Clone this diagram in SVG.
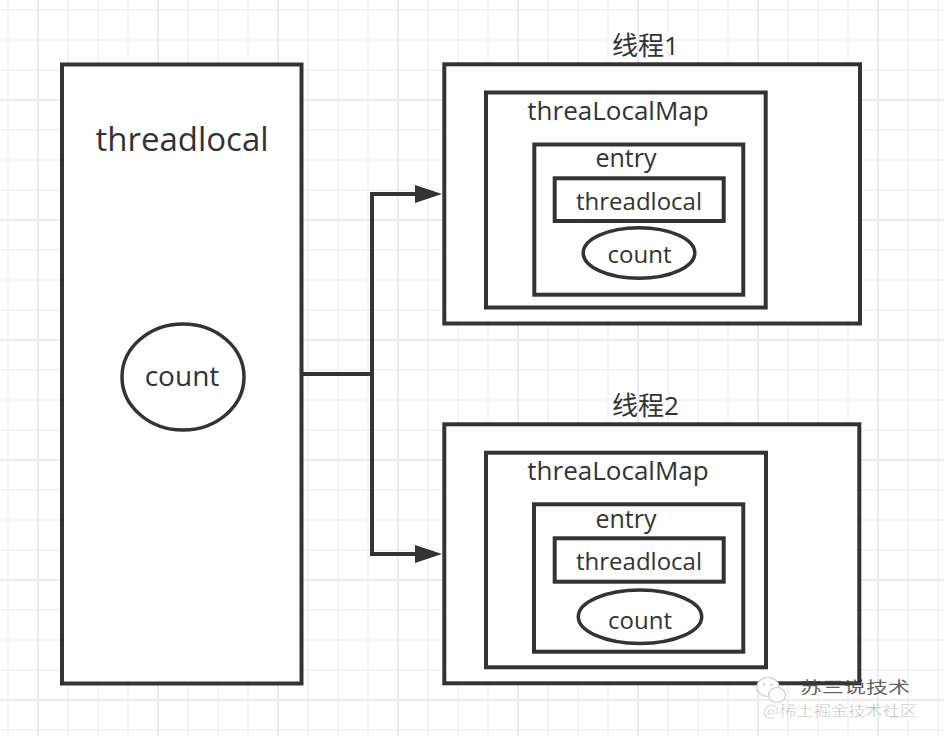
<svg xmlns="http://www.w3.org/2000/svg" width="944" height="736" viewBox="0 0 944 736">
  <defs>
    <pattern id="grid" x="7" y="9" width="120" height="120" patternUnits="userSpaceOnUse">
      <rect x="0" y="0" width="120" height="120" fill="#ffffff"/>
      <g fill="#f4f4f4">
        <rect x="0" y="0" width="2" height="120"/>
        <rect x="60" y="0" width="2" height="120"/>
        <rect x="90" y="0" width="2" height="120"/>
        <rect x="0" y="0" width="120" height="2"/>
        <rect x="0" y="30" width="120" height="2"/>
        <rect x="0" y="60" width="120" height="2"/>
      </g>
      <g fill="#ececec">
        <rect x="30" y="0" width="2" height="120"/>
        <rect x="0" y="90" width="120" height="2"/>
      </g>
    </pattern>
    <marker id="arrow" viewBox="0 0 27 18" markerWidth="27" markerHeight="18" refX="5" refY="9" orient="auto" markerUnits="userSpaceOnUse">
      <path d="M0,0 L27,9 L0,18 Z" fill="#333333"/>
    </marker>
    <style>
      .box { fill: #ffffff; stroke: #333333; stroke-width: 4; }
      .oval { fill: #ffffff; stroke: #333333; stroke-width: 3.5; }
      .edge { fill: none; stroke: #333333; stroke-width: 4; stroke-linejoin: miter; }
      text { font-family: "Open Sans", "Noto Sans CJK SC", sans-serif; fill: #333333; text-anchor: middle; }
      .wm1 { font-family: "Noto Sans CJK SC", sans-serif; fill: #444444; fill-opacity: 0.85; text-anchor: start; }
      .wm2 { font-family: "Noto Sans CJK SC", sans-serif; fill: #a8a8a8; stroke: #ffffff; stroke-width: 0.5; text-anchor: start; }
    </style>
  </defs>

  <rect x="0" y="0" width="944" height="736" fill="url(#grid)"/>

  <g id="threadlocal-main">
    <rect class="box" x="62" y="64.5" width="239.5" height="619"/>
    <text x="182" y="151" font-size="33">threadlocal</text>
    <ellipse class="oval" cx="183" cy="377" rx="61" ry="53"/>
    <text x="182" y="386" font-size="28">count</text>
  </g>

  <g id="connectors">
    <path class="edge" d="M301.5,374 H372"/>
    <path class="edge" d="M372,376 V194 H420" marker-end="url(#arrow)"/>
    <path class="edge" d="M372,372 V554 H420" marker-end="url(#arrow)"/>
  </g>

  <g id="thread1">
    <text x="645.5" y="55" font-size="26">线程1</text>
    <rect class="box" x="444.3" y="64.3" width="415.7" height="259.2"/>
  </g>
  <g id="map1">
    <rect class="box" x="486" y="92.5" width="279.7" height="215"/>
    <text x="618" y="120" font-size="26">threaLocalMap</text>
  </g>
  <g id="entry1">
    <rect class="box" x="534.3" y="144.5" width="209" height="150.2"/>
    <text x="626" y="167" font-size="25">entry</text>
  </g>
  <g id="key1">
    <rect class="box" x="554.7" y="178.3" width="169" height="42.7"/>
    <text x="639" y="210" font-size="24">threadlocal</text>
  </g>
  <g id="value1">
    <ellipse class="oval" cx="639" cy="253" rx="55.8" ry="25.3"/>
    <text x="639.5" y="263" font-size="24">count</text>
  </g>

  <g id="thread2">
    <text x="645.5" y="414.5" font-size="26">线程2</text>
    <rect class="box" x="444.3" y="424.3" width="415" height="259"/>
  </g>
  <g id="map2">
    <rect class="box" x="486" y="452.7" width="280" height="214.6"/>
    <text x="618" y="479.5" font-size="26">threaLocalMap</text>
  </g>
  <g id="entry2">
    <rect class="box" x="534" y="504.3" width="209.3" height="147.4"/>
    <text x="626" y="527.5" font-size="25">entry</text>
  </g>
  <g id="key2">
    <rect class="box" x="554.7" y="538.3" width="169" height="43.4"/>
    <text x="639" y="569.5" font-size="24">threadlocal</text>
  </g>
  <g id="value2">
    <ellipse class="oval" cx="640" cy="616.7" rx="61.7" ry="26.7"/>
    <text x="640" y="628.5" font-size="24">count</text>
  </g>

  <g id="watermark">
    <ellipse cx="768" cy="687" rx="11" ry="9.5" fill="#ffffff" stroke="#cfcfcf" stroke-width="1.2"/>
    <circle cx="764" cy="684.5" r="1.3" fill="#cfcfcf"/>
    <circle cx="771.5" cy="684.5" r="1.3" fill="#cfcfcf"/>
    <ellipse cx="777" cy="695" rx="8.5" ry="7.5" fill="#ffffff" stroke="#cfcfcf" stroke-width="1.2"/>
    <text class="wm1" x="800" y="693" font-size="16" textLength="110" lengthAdjust="spacingAndGlyphs">苏三说技术</text>
    <text class="wm2" x="763" y="716" font-size="15" textLength="154" lengthAdjust="spacingAndGlyphs">@稀土掘金技术社区</text>
  </g>
</svg>
